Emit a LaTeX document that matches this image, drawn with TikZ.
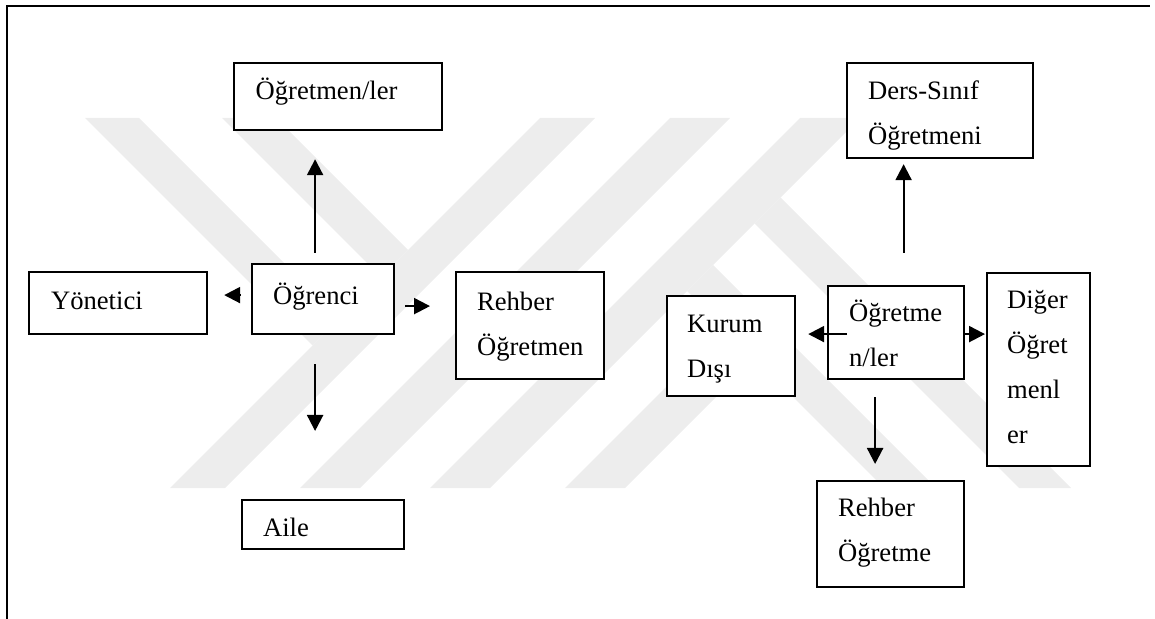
\documentclass[tikz,border=0pt]{standalone}
\usepackage{fontspec}
\setmainfont{Liberation Serif}
\usetikzlibrary{arrows.meta}
\lefthyphenmin=64
\definecolor{markgray}{HTML}{EDEDED}
\begin{document}
\begin{tikzpicture}[x=0.5pt,y=-0.5pt,
  box/.style={draw, fill=white, line width=1.1pt, anchor=north west, inner ysep=0pt, align=left,
    font=\fontsize{13.3pt}{22.5pt}\selectfont},
  arr/.style={line width=1.1pt, -{Triangle[length=8pt,width=8pt]}},
  outerline/.style={line width=1.1pt},
  stripe/.style={fill=markgray, draw=none}]
\useasboundingbox (0,0) rectangle (1155,619);

% faint striped emblem in the background
\fill[stripe] (170,488) -- (225,488) -- (595,118) -- (540,118) -- cycle;
\fill[stripe] (300,488) -- (360,488) -- (730,118) -- (670,118) -- cycle;
\fill[stripe] (430,488) -- (490,488) -- (860,118) -- (800,118) -- cycle;
\fill[stripe] (85,118) -- (139,118) -- (339.5,318.5) -- (312.5,345.5) -- cycle;
\fill[stripe] (222,118) -- (276,118) -- (408,250) -- (381,277) -- cycle;
\fill[stripe] (713,265) -- (687,291) -- (884,488) -- (936,488) -- cycle;
\fill[stripe] (780.5,197.5) -- (754.5,223.5) -- (1019,488) -- (1071,488) -- cycle;
\fill[stripe] (565,488) -- (625,488) -- (754.5,358.5) -- (724.5,328.5) -- cycle;

% open frame: left and top rules
\draw[outerline] (6.7,619) -- (6.7,6) -- (1150,6);

% left group
\node[box, inner xsep=10.8pt, text width=82.4pt, text height=18pt, text depth=15.5pt] (ogrlr) at (233,62) {Öğretmen/ler};
\node[box, inner xsep=11pt, text width=67pt, text height=18.5pt, text depth=12.5pt] (yon) at (28,271) {Yönetici};
\node[box, inner xsep=10.5pt, text width=50pt, text height=20pt, text depth=15pt] (ogrenci) at (251,263) {Öğrenci};
\node[box, inner xsep=10.5pt, text width=53pt, text height=19pt, text depth=34.5pt] (rehber1) at (455,271) {Rehber\\Öğretmen};
\node[box, inner xsep=10.75pt, text width=59.75pt, text height=18pt, text depth=6.5pt] (aile) at (240.5,499) {Aile};

% right group
\node[box, inner xsep=10.5pt, text width=72pt, text height=18pt, text depth=29.5pt] (ders) at (846,62) {Ders-Sınıf\\Öğretmeni};
\node[box, inner xsep=10.5pt, text width=47pt, text height=17.5pt, text depth=29pt] (ogr2) at (827,285) {Öğretme\\n/ler};
\node[box, inner xsep=10pt, text width=44pt, text height=18pt, text depth=32pt] (kurum) at (666,295) {Kurum\\Dışı};
\node[box, inner xsep=10pt, text width=31.5pt, text height=17.5pt, text depth=79pt] (diger) at (986,272) {Diğer\\Öğret\\menl\\er};
\node[box, inner xsep=10.5pt, text width=52.5pt, text height=17.5pt, text depth=35.5pt] (rehber2) at (816,480) {Rehber\\Öğretme};

% connectors of the left group
\draw[arr] ([shift={(-8,-10)}]ogrenci.north) -- ([shift={(-23,28)}]ogrlr.south);
\draw[arr] ([shift={(-11,-4)}]ogrenci.west) -- ([shift={(16,-8)}]yon.east);
\draw[arr] ([shift={(10,7)}]ogrenci.east) -- ([shift={(-25,-19.5)}]rehber1.west);
\draw[arr] ([shift={(-8,29)}]ogrenci.south) -- ([shift={(-7.75,-68)}]aile.north);

% connectors of the right group
\draw[arr] ([shift={(7.5,-32)}]ogr2.north) -- ([shift={(-36.5,5)}]ders.south);
\draw[arr] ([shift={(20,1.5)}]ogr2.west) -- ([shift={(12,-12)}]kurum.east);
\draw[arr] ([shift={(0,1.5)}]ogr2.east) -- ([shift={(-1,-35.5)}]diger.west);
\draw[arr] ([shift={(-21,17)}]ogr2.south) -- ([shift={(-15.5,-16)}]rehber2.north);
\end{tikzpicture}
\end{document}
